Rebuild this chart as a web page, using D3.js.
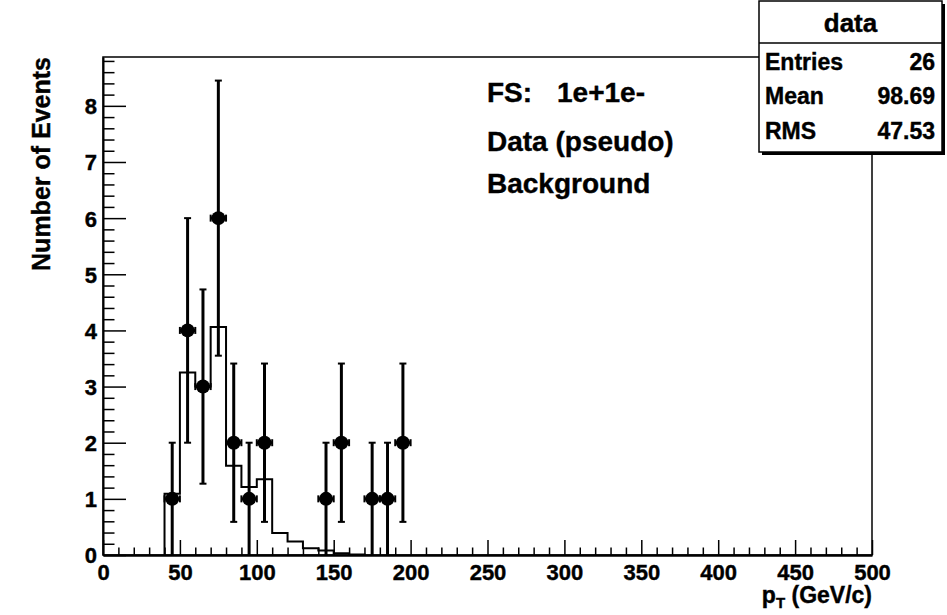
<!DOCTYPE html>
<html>
<head>
<meta charset="utf-8">
<script src="https://cdn.jsdelivr.net/npm/d3@7/dist/d3.min.js"></script>
<style>
  html, body { margin: 0; padding: 0; background: #fff; }
  svg { display: block; font-family: "Liberation Sans", Arial, Helvetica, sans-serif; font-weight: bold; }
  svg text { stroke: #000; stroke-width: 0.4px; }
</style>
</head>
<body>
<script>
// ---- data ----
const dataCenters = [45, 55, 65, 75, 85, 95, 105, 145, 155, 175, 185, 195];
const dataCounts  = [1, 4, 3, 6, 2, 1, 2, 1, 2, 1, 1, 2];
const dataErrors  = [1, 2, 1.73, 2.45, 1.41, 1, 1.41, 1, 1.41, 1, 1, 1.41];
const binHalfWidth = 5;

const bgBinLow  = [40, 50, 60, 70, 80, 90, 100, 110, 120, 130, 140, 150, 160];
const bgValues  = [1.09, 3.25, 3.0, 4.06, 1.59, 1.21, 1.35, 0.39, 0.24, 0.12, 0.08, 0.03, 0.01];
const bgBinWidth = 10;

const xMajorTicks = [0, 50, 100, 150, 200, 250, 300, 350, 400, 450, 500];
const yMajorTicks = [0, 1, 2, 3, 4, 5, 6, 7, 8];

const textLines = ["Data (pseudo)", "Background"];
const statsNames  = ["Entries", "Mean", "RMS"];
const statsValues = ["26", "98.69", "47.53"];

// ---- layout ----
const W = 947, H = 615;
const L = 103, R = 872, T = 57, B = 555;

const svg = d3.select("body").append("svg").attr("width", W).attr("height", H);

const x = d3.scaleLinear().domain([0, 500]).range([L, R]);
const y = d3.scaleLinear().domain([0, 8.87]).range([B, T]);

// frame
svg.append("rect").attr("x", L).attr("y", T).attr("width", R - L).attr("height", B - T)
  .attr("fill", "none").attr("stroke", "#000").attr("stroke-width", 1.5);

// x minor ticks
const xMinor = d3.range(0, 501, 10).filter(v => v % 50 !== 0);
svg.append("g").attr("transform", `translate(0,${B})`)
  .call(d3.axisBottom(x).tickValues(xMinor).tickSize(-7.5).tickSizeOuter(0).tickFormat(""))
  .call(g => g.select(".domain").remove())
  .call(g => g.selectAll("line").attr("stroke-width", 1.5));
// x major
const gx = svg.append("g").attr("transform", `translate(0,${B})`)
  .call(d3.axisBottom(x).tickValues(xMajorTicks).tickSize(-15).tickSizeOuter(0).tickPadding(25).tickFormat(d3.format("d")));
gx.select(".domain").attr("stroke-width", 2.5);
gx.selectAll("line").attr("stroke-width", 1.5);
gx.selectAll("text").attr("font-size", 22).attr("font-family", "Liberation Sans, Arial, sans-serif")
  .attr("font-weight", "bold").attr("fill", "#000").attr("dy", 0);

// y minor ticks
const yMinor = d3.range(0, 8.81, 0.2).filter(v => Math.abs(v - Math.round(v)) > 1e-6);
svg.append("g").attr("transform", `translate(${L},0)`)
  .call(d3.axisLeft(y).tickValues(yMinor).tickSize(-11.5).tickSizeOuter(0).tickFormat(""))
  .call(g => g.select(".domain").remove())
  .call(g => g.selectAll("line").attr("stroke-width", 1.5));
const gy = svg.append("g").attr("transform", `translate(${L},0)`)
  .call(d3.axisLeft(y).tickValues(yMajorTicks).tickSize(-23).tickSizeOuter(0).tickPadding(6).tickFormat(d3.format("d")));
gy.select(".domain").attr("stroke-width", 2);
gy.selectAll("line").attr("stroke-width", 1.5);
gy.selectAll("text").attr("font-size", 22).attr("font-family", "Liberation Sans, Arial, sans-serif")
  .attr("font-weight", "bold").attr("fill", "#000").attr("dy", "0.36em");

// axis titles
const xt = svg.append("text").attr("x", R).attr("y", 603).attr("text-anchor", "end")
  .attr("font-size", 23).attr("fill", "#000");
xt.append("tspan").text("p");
xt.append("tspan").attr("font-size", 15).attr("dy", 5).text("T");
xt.append("tspan").attr("dy", -5).text(" (GeV/c)");

svg.append("text").attr("transform", `translate(50,${T}) rotate(-90)`)
  .attr("text-anchor", "end").attr("font-size", 25).attr("fill", "#000").text("Number of Events");

// background histogram
let p = `M${x(bgBinLow[0])},${y(0)}`;
bgBinLow.forEach((lo, i) => {
  p += `L${x(lo)},${y(bgValues[i])}L${x(lo + bgBinWidth)},${y(bgValues[i])}`;
});
p += `L${x(bgBinLow[bgBinLow.length - 1] + bgBinWidth)},${y(0)}`;
svg.append("path").attr("d", p).attr("fill", "none").attr("stroke", "#000").attr("stroke-width", 2);

// data points with error bars
const pts = svg.append("g");
dataCenters.forEach((c, i) => {
  const v = dataCounts[i], e = dataErrors[i];
  const g = pts.append("g").attr("stroke", "#000").attr("stroke-width", 3);
  g.append("line").attr("x1", x(c)).attr("x2", x(c)).attr("y1", y(Math.max(0, v - e))).attr("y2", y(v + e));
  g.append("line").attr("x1", x(c) - 3.5).attr("x2", x(c) + 3.5).attr("y1", y(v + e)).attr("y2", y(v + e)).attr("stroke-width", 2);
  if (v - e > 0.01)
    g.append("line").attr("x1", x(c) - 3.5).attr("x2", x(c) + 3.5).attr("y1", y(v - e)).attr("y2", y(v - e)).attr("stroke-width", 2);
  g.append("line").attr("x1", x(c - binHalfWidth)).attr("x2", x(c + binHalfWidth)).attr("y1", y(v)).attr("y2", y(v));
  g.append("line").attr("x1", x(c - binHalfWidth)).attr("x2", x(c - binHalfWidth)).attr("y1", y(v) - 3.5).attr("y2", y(v) + 3.5).attr("stroke-width", 2);
  g.append("line").attr("x1", x(c + binHalfWidth)).attr("x2", x(c + binHalfWidth)).attr("y1", y(v) - 3.5).attr("y2", y(v) + 3.5).attr("stroke-width", 2);
  g.append("circle").attr("cx", x(c)).attr("cy", y(v)).attr("r", 7).attr("fill", "#000").attr("stroke", "none");
});

// text annotations
const fs = svg.append("text").attr("y", 102).attr("font-size", 28).attr("fill", "#000");
fs.append("tspan").attr("x", 487).text("FS:");
fs.append("tspan").attr("x", 557).text("1e+1e-");
svg.append("text").attr("x", 487).attr("y", 151).attr("font-size", 28).attr("fill", "#000").text(textLines[0]);
svg.append("text").attr("x", 487).attr("y", 193).attr("font-size", 28).attr("fill", "#000").text(textLines[1]);

// stats box
const sx = 759, sy = 1, sw = 183, sh = 151;
svg.append("rect").attr("x", sx + 3).attr("y", sy + 3).attr("width", sw).attr("height", sh).attr("fill", "#000");
svg.append("rect").attr("x", sx).attr("y", sy).attr("width", sw).attr("height", sh)
  .attr("fill", "#fff").attr("stroke", "#000").attr("stroke-width", 1.5);
svg.append("line").attr("x1", sx).attr("x2", sx + sw).attr("y1", 43).attr("y2", 43).attr("stroke", "#000").attr("stroke-width", 1.5);
svg.append("text").attr("x", sx + sw / 2).attr("y", 32).attr("text-anchor", "middle").attr("font-size", 26).attr("fill", "#000").text("data");
const rowY = [70, 104, 139];
statsNames.forEach((n, i) => {
  svg.append("text").attr("x", sx + 6).attr("y", rowY[i]).attr("font-size", 23).attr("fill", "#000").text(n);
  svg.append("text").attr("x", sx + sw - 7).attr("y", rowY[i]).attr("text-anchor", "end").attr("font-size", 23).attr("fill", "#000").text(statsValues[i]);
});
</script>
</body>
</html>
